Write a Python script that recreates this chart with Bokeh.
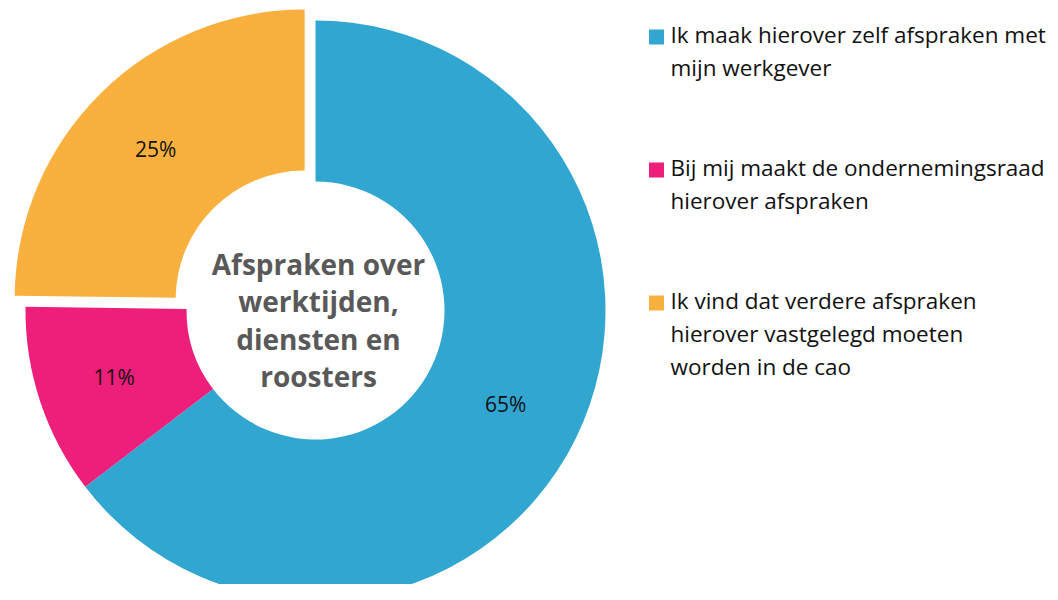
import math
from bokeh.plotting import figure
from bokeh.models import Range1d, ColumnDataSource
from bokeh.core.properties import value
from bokeh.embed import file_html
from bokeh.resources import INLINE

# ---- data ----
categories = [
    "Ik maak hierover zelf afspraken met mijn werkgever",
    "Bij mij maakt de ondernemingsraad hierover afspraken",
    "Ik vind dat verdere afspraken hierover vastgelegd moeten worden in de cao",
]
legend_lines = [
    ["Ik maak hierover zelf afspraken met", "mijn werkgever"],
    ["Bij mij maakt de ondernemingsraad", "hierover afspraken"],
    ["Ik vind dat verdere afspraken", "hierover vastgelegd moeten", "worden in de cao"],
]
shares = [64.6, 10.6, 24.8]
colors = ["#31A6D0", "#EE1F7A", "#FAB03E"]
center_title = ["Afspraken over", "werktijden,", "diensten en", "roosters"]

# ---- layout / style ----
W, H = 1050, 584
explode = [0.0, 0.0, 15.5]
CX, CY_IMG = 315.0, 310.0
R_OUT, R_IN = 290.0, 129.0
LABEL_R = 212.0
FONT = "Open Sans"
BASE_FIX = -10  # correction for rendered baseline position


def Y(img_y):
    return H - img_y


CY = Y(CY_IMG)

p = figure(width=W, height=H, output_backend="svg", toolbar_location=None,
           x_range=Range1d(0, W), y_range=Range1d(0, H), min_border=0)
p.axis.visible = False
p.grid.visible = False
p.outline_line_color = None
p.background_fill_color = "white"

total = sum(shares)
cum = 0.0
xs, ys, starts, ends, lx, ly, labels = [], [], [], [], [], [], []
for s, e in zip(shares, explode):
    t1 = cum / total * 2 * math.pi
    cum += s
    t2 = cum / total * 2 * math.pi
    mid = (t1 + t2) / 2
    ox = CX + e * math.sin(mid)
    oy = CY + e * math.cos(mid)
    xs.append(ox)
    ys.append(oy)
    starts.append(math.pi / 2 - t2)
    ends.append(math.pi / 2 - t1)
    lx.append(ox + LABEL_R * math.sin(mid))
    ly.append(oy + LABEL_R * math.cos(mid))
    labels.append(f"{round(s)}%")

src = ColumnDataSource(dict(x=xs, y=ys, start=starts, end=ends, color=colors))
p.annular_wedge(x="x", y="y", inner_radius=R_IN, outer_radius=R_OUT,
                start_angle="start", end_angle="end", direction="anticlock",
                fill_color="color", line_color=None, source=src)

p.text(x=lx, y=ly, text=labels, text_align="center", text_baseline="middle",
       text_font=value(FONT), text_font_size="21px", text_color="#111111")

# center title
for i, line in enumerate(center_title):
    p.text(x=[318], y=[Y(273 + BASE_FIX + i * 37.5)], text=[line],
           text_align="center", text_baseline="alphabetic",
           text_font=value(FONT), text_font_size="28px",
           text_font_style="bold", text_color="#595959")

# legend
item_base = [44, 177, 310]
for i, lines in enumerate(legend_lines):
    p.rect(x=[656], y=[Y(item_base[i] - 7.5)], width=15, height=15,
           fill_color=colors[i], line_color=None)
    for j, line in enumerate(lines):
        p.text(x=[670], y=[Y(item_base[i] + BASE_FIX + j * 33)], text=[line],
               text_align="left", text_baseline="alphabetic",
               text_font=value(FONT), text_font_size="22.5px",
               text_color="#111111")

open("out.html", "w").write(file_html(p, INLINE))
